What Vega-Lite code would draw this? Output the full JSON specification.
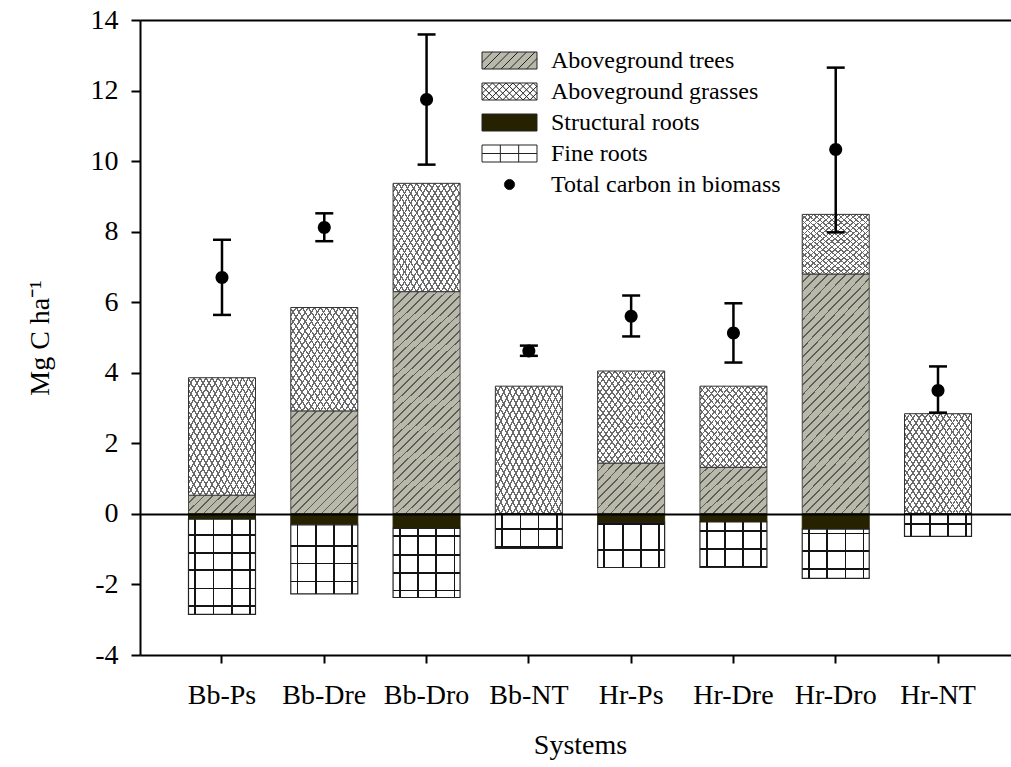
{
  "$schema": "https://vega.github.io/schema/vega-lite/v6.json",
  "width": 871,
  "height": 635,
  "autosize": {"type": "none"},
  "padding": {"left": 140, "top": 20, "right": 0, "bottom": 112},
  "background": "white",
  "datasets": {
    "components": [
      {"system": "Bb-Ps", "component": "Aboveground trees", "order": 1, "value": 0.53},
      {"system": "Bb-Ps", "component": "Aboveground grasses", "order": 2, "value": 3.33},
      {"system": "Bb-Ps", "component": "Structural roots", "order": 1, "value": -0.15},
      {"system": "Bb-Ps", "component": "Fine roots", "order": 2, "value": -2.70},
      {"system": "Bb-Dre", "component": "Aboveground trees", "order": 1, "value": 2.92},
      {"system": "Bb-Dre", "component": "Aboveground grasses", "order": 2, "value": 2.93},
      {"system": "Bb-Dre", "component": "Structural roots", "order": 1, "value": -0.31},
      {"system": "Bb-Dre", "component": "Fine roots", "order": 2, "value": -1.96},
      {"system": "Bb-Dro", "component": "Aboveground trees", "order": 1, "value": 6.30},
      {"system": "Bb-Dro", "component": "Aboveground grasses", "order": 2, "value": 3.07},
      {"system": "Bb-Dro", "component": "Structural roots", "order": 1, "value": -0.41},
      {"system": "Bb-Dro", "component": "Fine roots", "order": 2, "value": -1.96},
      {"system": "Bb-NT", "component": "Aboveground trees", "order": 1, "value": 0},
      {"system": "Bb-NT", "component": "Aboveground grasses", "order": 2, "value": 3.62},
      {"system": "Bb-NT", "component": "Structural roots", "order": 1, "value": 0},
      {"system": "Bb-NT", "component": "Fine roots", "order": 2, "value": -0.98},
      {"system": "Hr-Ps", "component": "Aboveground trees", "order": 1, "value": 1.44},
      {"system": "Hr-Ps", "component": "Aboveground grasses", "order": 2, "value": 2.61},
      {"system": "Hr-Ps", "component": "Structural roots", "order": 1, "value": -0.24},
      {"system": "Hr-Ps", "component": "Fine roots", "order": 2, "value": -1.28},
      {"system": "Hr-Dre", "component": "Aboveground trees", "order": 1, "value": 1.32},
      {"system": "Hr-Dre", "component": "Aboveground grasses", "order": 2, "value": 2.30},
      {"system": "Hr-Dre", "component": "Structural roots", "order": 1, "value": -0.23},
      {"system": "Hr-Dre", "component": "Fine roots", "order": 2, "value": -1.29},
      {"system": "Hr-Dro", "component": "Aboveground trees", "order": 1, "value": 6.80},
      {"system": "Hr-Dro", "component": "Aboveground grasses", "order": 2, "value": 1.69},
      {"system": "Hr-Dro", "component": "Structural roots", "order": 1, "value": -0.43},
      {"system": "Hr-Dro", "component": "Fine roots", "order": 2, "value": -1.40},
      {"system": "Hr-NT", "component": "Aboveground trees", "order": 1, "value": 0},
      {"system": "Hr-NT", "component": "Aboveground grasses", "order": 2, "value": 2.84},
      {"system": "Hr-NT", "component": "Structural roots", "order": 1, "value": 0},
      {"system": "Hr-NT", "component": "Fine roots", "order": 2, "value": -0.64}
    ],
    "totals": [
      {"system": "Bb-Ps", "series": "Total carbon in biomass", "total": 6.70, "low": 5.64, "high": 7.77},
      {"system": "Bb-Dre", "series": "Total carbon in biomass", "total": 8.12, "low": 7.73, "high": 8.52},
      {"system": "Bb-Dro", "series": "Total carbon in biomass", "total": 11.75, "low": 9.90, "high": 13.59},
      {"system": "Bb-NT", "series": "Total carbon in biomass", "total": 4.62, "low": 4.48, "high": 4.77},
      {"system": "Hr-Ps", "series": "Total carbon in biomass", "total": 5.60, "low": 5.03, "high": 6.19},
      {"system": "Hr-Dre", "series": "Total carbon in biomass", "total": 5.13, "low": 4.29, "high": 5.97},
      {"system": "Hr-Dro", "series": "Total carbon in biomass", "total": 10.33, "low": 7.98, "high": 12.65},
      {"system": "Hr-NT", "series": "Total carbon in biomass", "total": 3.50, "low": 2.87, "high": 4.18}
    ]
  },
  "encoding": {
    "x": {
      "field": "system",
      "type": "nominal",
      "sort": null,
      "title": "Systems",
      "scale": {
        "domain": ["Bb-Ps", "Bb-Dre", "Bb-Dro", "Bb-NT", "Hr-Ps", "Hr-Dre", "Hr-Dro", "Hr-NT"],
        "range": [0, 880],
        "paddingInner": 0,
        "paddingOuter": 0.3016
      },
      "axis": {"labelAngle": 0, "labelPadding": 18, "tickSize": 8, "grid": false, "titlePadding": 22}
    }
  },
  "layer": [
    {
      "data": {"name": "components"},
      "transform": [
        {"stack": "value", "groupby": ["system"], "sort": [{"field": "order", "order": "ascending"}], "as": ["v0", "v1"]},
        {"filter": "datum.component === 'Aboveground trees'"}
      ],
      "mark": {"type": "bar", "width": {"band": 0.655}, "stroke": "#4a4a44", "strokeWidth": 1},
      "encoding": {
        "y": {
          "field": "v0",
          "type": "quantitative",
          "title": "Mg C ha⁻¹",
          "scale": {"domain": [-4, 14], "nice": false, "zero": false},
          "axis": {
            "values": [-4, -2, 0, 2, 4, 6, 8, 10, 12, 14],
            "labelExpr": "replace(datum.label, '\u2212', '-')",
            "labelPadding": 13,
            "tickSize": 9,
            "grid": true,
            "gridColor": "black",
            "gridWidth": 2,
            "gridOpacity": {"condition": {"test": "datum.value === 0 || datum.value === 14", "value": 1}, "value": 0},
            "zindex": 1,
            "titlePadding": 36
          }
        },
        "y2": {"field": "v1"},
        "fill": {
          "condition": [
            {"test": "datum.system === 'Bb-Ps'", "value": {"gradient": "linear", "x1": 0, "y1": 0, "x2": 1.188, "y2": 0.337, "stops": [
              {"offset": 0.08, "color": "#b9b9ab"}, {"offset": 0.08, "color": "#5c5c55"}, {"offset": 0.1, "color": "#5c5c55"}, {"offset": 0.1, "color": "#b9b9ab"},
              {"offset": 0.18, "color": "#b9b9ab"}, {"offset": 0.18, "color": "#5c5c55"}, {"offset": 0.2, "color": "#5c5c55"}, {"offset": 0.2, "color": "#b9b9ab"},
              {"offset": 0.28, "color": "#b9b9ab"}, {"offset": 0.28, "color": "#5c5c55"}, {"offset": 0.3, "color": "#5c5c55"}, {"offset": 0.3, "color": "#b9b9ab"},
              {"offset": 0.38, "color": "#b9b9ab"}, {"offset": 0.38, "color": "#5c5c55"}, {"offset": 0.4, "color": "#5c5c55"}, {"offset": 0.4, "color": "#b9b9ab"},
              {"offset": 0.48, "color": "#b9b9ab"}, {"offset": 0.48, "color": "#5c5c55"}, {"offset": 0.5, "color": "#5c5c55"}, {"offset": 0.5, "color": "#b9b9ab"},
              {"offset": 0.58, "color": "#b9b9ab"}, {"offset": 0.58, "color": "#5c5c55"}, {"offset": 0.6, "color": "#5c5c55"}, {"offset": 0.6, "color": "#b9b9ab"},
              {"offset": 0.68, "color": "#b9b9ab"}, {"offset": 0.68, "color": "#5c5c55"}, {"offset": 0.7, "color": "#5c5c55"}, {"offset": 0.7, "color": "#b9b9ab"},
              {"offset": 0.78, "color": "#b9b9ab"}, {"offset": 0.78, "color": "#5c5c55"}, {"offset": 0.8, "color": "#5c5c55"}, {"offset": 0.8, "color": "#b9b9ab"},
              {"offset": 0.88, "color": "#b9b9ab"}, {"offset": 0.88, "color": "#5c5c55"}, {"offset": 0.9, "color": "#5c5c55"}, {"offset": 0.9, "color": "#b9b9ab"},
              {"offset": 0.98, "color": "#b9b9ab"}, {"offset": 0.98, "color": "#5c5c55"}, {"offset": 1, "color": "#5c5c55"}
            ]}},
            {"test": "datum.system === 'Bb-Dre'", "value": {"gradient": "linear", "x1": 0, "y1": 0, "x2": 0.754, "y2": 1.16, "stops": [
              {"offset": 0.0421, "color": "#b9b9ab"}, {"offset": 0.0421, "color": "#5c5c55"}, {"offset": 0.0526, "color": "#5c5c55"}, {"offset": 0.0526, "color": "#b9b9ab"},
              {"offset": 0.0947, "color": "#b9b9ab"}, {"offset": 0.0947, "color": "#5c5c55"}, {"offset": 0.1053, "color": "#5c5c55"}, {"offset": 0.1053, "color": "#b9b9ab"},
              {"offset": 0.1474, "color": "#b9b9ab"}, {"offset": 0.1474, "color": "#5c5c55"}, {"offset": 0.1579, "color": "#5c5c55"}, {"offset": 0.1579, "color": "#b9b9ab"},
              {"offset": 0.2, "color": "#b9b9ab"}, {"offset": 0.2, "color": "#5c5c55"}, {"offset": 0.2105, "color": "#5c5c55"}, {"offset": 0.2105, "color": "#b9b9ab"},
              {"offset": 0.2526, "color": "#b9b9ab"}, {"offset": 0.2526, "color": "#5c5c55"}, {"offset": 0.2632, "color": "#5c5c55"}, {"offset": 0.2632, "color": "#b9b9ab"},
              {"offset": 0.3053, "color": "#b9b9ab"}, {"offset": 0.3053, "color": "#5c5c55"}, {"offset": 0.3158, "color": "#5c5c55"}, {"offset": 0.3158, "color": "#b9b9ab"},
              {"offset": 0.3579, "color": "#b9b9ab"}, {"offset": 0.3579, "color": "#5c5c55"}, {"offset": 0.3684, "color": "#5c5c55"}, {"offset": 0.3684, "color": "#b9b9ab"},
              {"offset": 0.4105, "color": "#b9b9ab"}, {"offset": 0.4105, "color": "#5c5c55"}, {"offset": 0.4211, "color": "#5c5c55"}, {"offset": 0.4211, "color": "#b9b9ab"},
              {"offset": 0.4632, "color": "#b9b9ab"}, {"offset": 0.4632, "color": "#5c5c55"}, {"offset": 0.4737, "color": "#5c5c55"}, {"offset": 0.4737, "color": "#b9b9ab"},
              {"offset": 0.5158, "color": "#b9b9ab"}, {"offset": 0.5158, "color": "#5c5c55"}, {"offset": 0.5263, "color": "#5c5c55"}, {"offset": 0.5263, "color": "#b9b9ab"},
              {"offset": 0.5684, "color": "#b9b9ab"}, {"offset": 0.5684, "color": "#5c5c55"}, {"offset": 0.5789, "color": "#5c5c55"}, {"offset": 0.5789, "color": "#b9b9ab"},
              {"offset": 0.6211, "color": "#b9b9ab"}, {"offset": 0.6211, "color": "#5c5c55"}, {"offset": 0.6316, "color": "#5c5c55"}, {"offset": 0.6316, "color": "#b9b9ab"},
              {"offset": 0.6737, "color": "#b9b9ab"}, {"offset": 0.6737, "color": "#5c5c55"}, {"offset": 0.6842, "color": "#5c5c55"}, {"offset": 0.6842, "color": "#b9b9ab"},
              {"offset": 0.7263, "color": "#b9b9ab"}, {"offset": 0.7263, "color": "#5c5c55"}, {"offset": 0.7368, "color": "#5c5c55"}, {"offset": 0.7368, "color": "#b9b9ab"},
              {"offset": 0.7789, "color": "#b9b9ab"}, {"offset": 0.7789, "color": "#5c5c55"}, {"offset": 0.7895, "color": "#5c5c55"}, {"offset": 0.7895, "color": "#b9b9ab"},
              {"offset": 0.8316, "color": "#b9b9ab"}, {"offset": 0.8316, "color": "#5c5c55"}, {"offset": 0.8421, "color": "#5c5c55"}, {"offset": 0.8421, "color": "#b9b9ab"},
              {"offset": 0.8842, "color": "#b9b9ab"}, {"offset": 0.8842, "color": "#5c5c55"}, {"offset": 0.8947, "color": "#5c5c55"}, {"offset": 0.8947, "color": "#b9b9ab"},
              {"offset": 0.9368, "color": "#b9b9ab"}, {"offset": 0.9368, "color": "#5c5c55"}, {"offset": 0.9474, "color": "#5c5c55"}, {"offset": 0.9474, "color": "#b9b9ab"},
              {"offset": 0.9895, "color": "#b9b9ab"}, {"offset": 0.9895, "color": "#5c5c55"}, {"offset": 1, "color": "#5c5c55"}
            ]}},
            {"test": "datum.system === 'Bb-Dro' || datum.system === 'Hr-Dro'", "value": {"gradient": "linear", "x1": 0, "y1": 0, "x2": 0.345, "y2": 1.19, "stops": [
              {"offset": 0.0242, "color": "#b9b9ab"}, {"offset": 0.0242, "color": "#5c5c55"}, {"offset": 0.0303, "color": "#5c5c55"}, {"offset": 0.0303, "color": "#b9b9ab"},
              {"offset": 0.0545, "color": "#b9b9ab"}, {"offset": 0.0545, "color": "#5c5c55"}, {"offset": 0.0606, "color": "#5c5c55"}, {"offset": 0.0606, "color": "#b9b9ab"},
              {"offset": 0.0848, "color": "#b9b9ab"}, {"offset": 0.0848, "color": "#5c5c55"}, {"offset": 0.0909, "color": "#5c5c55"}, {"offset": 0.0909, "color": "#b9b9ab"},
              {"offset": 0.1152, "color": "#b9b9ab"}, {"offset": 0.1152, "color": "#5c5c55"}, {"offset": 0.1212, "color": "#5c5c55"}, {"offset": 0.1212, "color": "#b9b9ab"},
              {"offset": 0.1455, "color": "#b9b9ab"}, {"offset": 0.1455, "color": "#5c5c55"}, {"offset": 0.1515, "color": "#5c5c55"}, {"offset": 0.1515, "color": "#b9b9ab"},
              {"offset": 0.1758, "color": "#b9b9ab"}, {"offset": 0.1758, "color": "#5c5c55"}, {"offset": 0.1818, "color": "#5c5c55"}, {"offset": 0.1818, "color": "#b9b9ab"},
              {"offset": 0.2061, "color": "#b9b9ab"}, {"offset": 0.2061, "color": "#5c5c55"}, {"offset": 0.2121, "color": "#5c5c55"}, {"offset": 0.2121, "color": "#b9b9ab"},
              {"offset": 0.2364, "color": "#b9b9ab"}, {"offset": 0.2364, "color": "#5c5c55"}, {"offset": 0.2424, "color": "#5c5c55"}, {"offset": 0.2424, "color": "#b9b9ab"},
              {"offset": 0.2667, "color": "#b9b9ab"}, {"offset": 0.2667, "color": "#5c5c55"}, {"offset": 0.2727, "color": "#5c5c55"}, {"offset": 0.2727, "color": "#b9b9ab"},
              {"offset": 0.297, "color": "#b9b9ab"}, {"offset": 0.297, "color": "#5c5c55"}, {"offset": 0.303, "color": "#5c5c55"}, {"offset": 0.303, "color": "#b9b9ab"},
              {"offset": 0.3273, "color": "#b9b9ab"}, {"offset": 0.3273, "color": "#5c5c55"}, {"offset": 0.3333, "color": "#5c5c55"}, {"offset": 0.3333, "color": "#b9b9ab"},
              {"offset": 0.3576, "color": "#b9b9ab"}, {"offset": 0.3576, "color": "#5c5c55"}, {"offset": 0.3636, "color": "#5c5c55"}, {"offset": 0.3636, "color": "#b9b9ab"},
              {"offset": 0.3879, "color": "#b9b9ab"}, {"offset": 0.3879, "color": "#5c5c55"}, {"offset": 0.3939, "color": "#5c5c55"}, {"offset": 0.3939, "color": "#b9b9ab"},
              {"offset": 0.4182, "color": "#b9b9ab"}, {"offset": 0.4182, "color": "#5c5c55"}, {"offset": 0.4242, "color": "#5c5c55"}, {"offset": 0.4242, "color": "#b9b9ab"},
              {"offset": 0.4485, "color": "#b9b9ab"}, {"offset": 0.4485, "color": "#5c5c55"}, {"offset": 0.4545, "color": "#5c5c55"}, {"offset": 0.4545, "color": "#b9b9ab"},
              {"offset": 0.4788, "color": "#b9b9ab"}, {"offset": 0.4788, "color": "#5c5c55"}, {"offset": 0.4848, "color": "#5c5c55"}, {"offset": 0.4848, "color": "#b9b9ab"},
              {"offset": 0.5091, "color": "#b9b9ab"}, {"offset": 0.5091, "color": "#5c5c55"}, {"offset": 0.5152, "color": "#5c5c55"}, {"offset": 0.5152, "color": "#b9b9ab"},
              {"offset": 0.5394, "color": "#b9b9ab"}, {"offset": 0.5394, "color": "#5c5c55"}, {"offset": 0.5455, "color": "#5c5c55"}, {"offset": 0.5455, "color": "#b9b9ab"},
              {"offset": 0.5697, "color": "#b9b9ab"}, {"offset": 0.5697, "color": "#5c5c55"}, {"offset": 0.5758, "color": "#5c5c55"}, {"offset": 0.5758, "color": "#b9b9ab"},
              {"offset": 0.6, "color": "#b9b9ab"}, {"offset": 0.6, "color": "#5c5c55"}, {"offset": 0.6061, "color": "#5c5c55"}, {"offset": 0.6061, "color": "#b9b9ab"},
              {"offset": 0.6303, "color": "#b9b9ab"}, {"offset": 0.6303, "color": "#5c5c55"}, {"offset": 0.6364, "color": "#5c5c55"}, {"offset": 0.6364, "color": "#b9b9ab"},
              {"offset": 0.6606, "color": "#b9b9ab"}, {"offset": 0.6606, "color": "#5c5c55"}, {"offset": 0.6667, "color": "#5c5c55"}, {"offset": 0.6667, "color": "#b9b9ab"},
              {"offset": 0.6909, "color": "#b9b9ab"}, {"offset": 0.6909, "color": "#5c5c55"}, {"offset": 0.697, "color": "#5c5c55"}, {"offset": 0.697, "color": "#b9b9ab"},
              {"offset": 0.7212, "color": "#b9b9ab"}, {"offset": 0.7212, "color": "#5c5c55"}, {"offset": 0.7273, "color": "#5c5c55"}, {"offset": 0.7273, "color": "#b9b9ab"},
              {"offset": 0.7515, "color": "#b9b9ab"}, {"offset": 0.7515, "color": "#5c5c55"}, {"offset": 0.7576, "color": "#5c5c55"}, {"offset": 0.7576, "color": "#b9b9ab"},
              {"offset": 0.7818, "color": "#b9b9ab"}, {"offset": 0.7818, "color": "#5c5c55"}, {"offset": 0.7879, "color": "#5c5c55"}, {"offset": 0.7879, "color": "#b9b9ab"},
              {"offset": 0.8121, "color": "#b9b9ab"}, {"offset": 0.8121, "color": "#5c5c55"}, {"offset": 0.8182, "color": "#5c5c55"}, {"offset": 0.8182, "color": "#b9b9ab"},
              {"offset": 0.8424, "color": "#b9b9ab"}, {"offset": 0.8424, "color": "#5c5c55"}, {"offset": 0.8485, "color": "#5c5c55"}, {"offset": 0.8485, "color": "#b9b9ab"},
              {"offset": 0.8727, "color": "#b9b9ab"}, {"offset": 0.8727, "color": "#5c5c55"}, {"offset": 0.8788, "color": "#5c5c55"}, {"offset": 0.8788, "color": "#b9b9ab"},
              {"offset": 0.903, "color": "#b9b9ab"}, {"offset": 0.903, "color": "#5c5c55"}, {"offset": 0.9091, "color": "#5c5c55"}, {"offset": 0.9091, "color": "#b9b9ab"},
              {"offset": 0.9333, "color": "#b9b9ab"}, {"offset": 0.9333, "color": "#5c5c55"}, {"offset": 0.9394, "color": "#5c5c55"}, {"offset": 0.9394, "color": "#b9b9ab"},
              {"offset": 0.9636, "color": "#b9b9ab"}, {"offset": 0.9636, "color": "#5c5c55"}, {"offset": 0.9697, "color": "#5c5c55"}, {"offset": 0.9697, "color": "#b9b9ab"},
              {"offset": 0.9939, "color": "#b9b9ab"}, {"offset": 0.9939, "color": "#5c5c55"}, {"offset": 1, "color": "#5c5c55"}
            ]}}
          ],
          "value": {"gradient": "linear", "x1": 0, "y1": 0, "x2": 1.128, "y2": 0.825, "stops": [
            {"offset": 0.0615, "color": "#b9b9ab"}, {"offset": 0.0615, "color": "#5c5c55"}, {"offset": 0.0769, "color": "#5c5c55"}, {"offset": 0.0769, "color": "#b9b9ab"},
            {"offset": 0.1385, "color": "#b9b9ab"}, {"offset": 0.1385, "color": "#5c5c55"}, {"offset": 0.1538, "color": "#5c5c55"}, {"offset": 0.1538, "color": "#b9b9ab"},
            {"offset": 0.2154, "color": "#b9b9ab"}, {"offset": 0.2154, "color": "#5c5c55"}, {"offset": 0.2308, "color": "#5c5c55"}, {"offset": 0.2308, "color": "#b9b9ab"},
            {"offset": 0.2923, "color": "#b9b9ab"}, {"offset": 0.2923, "color": "#5c5c55"}, {"offset": 0.3077, "color": "#5c5c55"}, {"offset": 0.3077, "color": "#b9b9ab"},
            {"offset": 0.3692, "color": "#b9b9ab"}, {"offset": 0.3692, "color": "#5c5c55"}, {"offset": 0.3846, "color": "#5c5c55"}, {"offset": 0.3846, "color": "#b9b9ab"},
            {"offset": 0.4462, "color": "#b9b9ab"}, {"offset": 0.4462, "color": "#5c5c55"}, {"offset": 0.4615, "color": "#5c5c55"}, {"offset": 0.4615, "color": "#b9b9ab"},
            {"offset": 0.5231, "color": "#b9b9ab"}, {"offset": 0.5231, "color": "#5c5c55"}, {"offset": 0.5385, "color": "#5c5c55"}, {"offset": 0.5385, "color": "#b9b9ab"},
            {"offset": 0.6, "color": "#b9b9ab"}, {"offset": 0.6, "color": "#5c5c55"}, {"offset": 0.6154, "color": "#5c5c55"}, {"offset": 0.6154, "color": "#b9b9ab"},
            {"offset": 0.6769, "color": "#b9b9ab"}, {"offset": 0.6769, "color": "#5c5c55"}, {"offset": 0.6923, "color": "#5c5c55"}, {"offset": 0.6923, "color": "#b9b9ab"},
            {"offset": 0.7538, "color": "#b9b9ab"}, {"offset": 0.7538, "color": "#5c5c55"}, {"offset": 0.7692, "color": "#5c5c55"}, {"offset": 0.7692, "color": "#b9b9ab"},
            {"offset": 0.8308, "color": "#b9b9ab"}, {"offset": 0.8308, "color": "#5c5c55"}, {"offset": 0.8462, "color": "#5c5c55"}, {"offset": 0.8462, "color": "#b9b9ab"},
            {"offset": 0.9077, "color": "#b9b9ab"}, {"offset": 0.9077, "color": "#5c5c55"}, {"offset": 0.9231, "color": "#5c5c55"}, {"offset": 0.9231, "color": "#b9b9ab"},
            {"offset": 0.9846, "color": "#b9b9ab"}, {"offset": 0.9846, "color": "#5c5c55"}, {"offset": 1, "color": "#5c5c55"}
          ]}
        }
      }
    },
    {
      "data": {"name": "components"},
      "transform": [
        {"stack": "value", "groupby": ["system"], "sort": [{"field": "order", "order": "ascending"}], "as": ["v0", "v1"]},
        {"filter": "datum.component === 'Aboveground grasses'"}
      ],
      "mark": {"type": "bar", "width": {"band": 0.655}, "fill": {"gradient": "linear", "x1": 0, "y1": 0, "x2": 1, "y2": 1, "stops": [
        {"offset": 0.0341, "color": "#ffffff"}, {"offset": 0.0341, "color": "#6a6a6a"}, {"offset": 0.0455, "color": "#6a6a6a"}, {"offset": 0.0455, "color": "#ffffff"},
        {"offset": 0.0795, "color": "#ffffff"}, {"offset": 0.0795, "color": "#6a6a6a"}, {"offset": 0.0909, "color": "#6a6a6a"}, {"offset": 0.0909, "color": "#ffffff"},
        {"offset": 0.125, "color": "#ffffff"}, {"offset": 0.125, "color": "#6a6a6a"}, {"offset": 0.1364, "color": "#6a6a6a"}, {"offset": 0.1364, "color": "#ffffff"},
        {"offset": 0.1705, "color": "#ffffff"}, {"offset": 0.1705, "color": "#6a6a6a"}, {"offset": 0.1818, "color": "#6a6a6a"}, {"offset": 0.1818, "color": "#ffffff"},
        {"offset": 0.2159, "color": "#ffffff"}, {"offset": 0.2159, "color": "#6a6a6a"}, {"offset": 0.2273, "color": "#6a6a6a"}, {"offset": 0.2273, "color": "#ffffff"},
        {"offset": 0.2614, "color": "#ffffff"}, {"offset": 0.2614, "color": "#6a6a6a"}, {"offset": 0.2727, "color": "#6a6a6a"}, {"offset": 0.2727, "color": "#ffffff"},
        {"offset": 0.3068, "color": "#ffffff"}, {"offset": 0.3068, "color": "#6a6a6a"}, {"offset": 0.3182, "color": "#6a6a6a"}, {"offset": 0.3182, "color": "#ffffff"},
        {"offset": 0.3523, "color": "#ffffff"}, {"offset": 0.3523, "color": "#6a6a6a"}, {"offset": 0.3636, "color": "#6a6a6a"}, {"offset": 0.3636, "color": "#ffffff"},
        {"offset": 0.3977, "color": "#ffffff"}, {"offset": 0.3977, "color": "#6a6a6a"}, {"offset": 0.4091, "color": "#6a6a6a"}, {"offset": 0.4091, "color": "#ffffff"},
        {"offset": 0.4432, "color": "#ffffff"}, {"offset": 0.4432, "color": "#6a6a6a"}, {"offset": 0.4545, "color": "#6a6a6a"}, {"offset": 0.4545, "color": "#ffffff"},
        {"offset": 0.4886, "color": "#ffffff"}, {"offset": 0.4886, "color": "#6a6a6a"}, {"offset": 0.5, "color": "#6a6a6a"}, {"offset": 0.5, "color": "#ffffff"},
        {"offset": 0.5341, "color": "#ffffff"}, {"offset": 0.5341, "color": "#6a6a6a"}, {"offset": 0.5455, "color": "#6a6a6a"}, {"offset": 0.5455, "color": "#ffffff"},
        {"offset": 0.5795, "color": "#ffffff"}, {"offset": 0.5795, "color": "#6a6a6a"}, {"offset": 0.5909, "color": "#6a6a6a"}, {"offset": 0.5909, "color": "#ffffff"},
        {"offset": 0.625, "color": "#ffffff"}, {"offset": 0.625, "color": "#6a6a6a"}, {"offset": 0.6364, "color": "#6a6a6a"}, {"offset": 0.6364, "color": "#ffffff"},
        {"offset": 0.6705, "color": "#ffffff"}, {"offset": 0.6705, "color": "#6a6a6a"}, {"offset": 0.6818, "color": "#6a6a6a"}, {"offset": 0.6818, "color": "#ffffff"},
        {"offset": 0.7159, "color": "#ffffff"}, {"offset": 0.7159, "color": "#6a6a6a"}, {"offset": 0.7273, "color": "#6a6a6a"}, {"offset": 0.7273, "color": "#ffffff"},
        {"offset": 0.7614, "color": "#ffffff"}, {"offset": 0.7614, "color": "#6a6a6a"}, {"offset": 0.7727, "color": "#6a6a6a"}, {"offset": 0.7727, "color": "#ffffff"},
        {"offset": 0.8068, "color": "#ffffff"}, {"offset": 0.8068, "color": "#6a6a6a"}, {"offset": 0.8182, "color": "#6a6a6a"}, {"offset": 0.8182, "color": "#ffffff"},
        {"offset": 0.8523, "color": "#ffffff"}, {"offset": 0.8523, "color": "#6a6a6a"}, {"offset": 0.8636, "color": "#6a6a6a"}, {"offset": 0.8636, "color": "#ffffff"},
        {"offset": 0.8977, "color": "#ffffff"}, {"offset": 0.8977, "color": "#6a6a6a"}, {"offset": 0.9091, "color": "#6a6a6a"}, {"offset": 0.9091, "color": "#ffffff"},
        {"offset": 0.9432, "color": "#ffffff"}, {"offset": 0.9432, "color": "#6a6a6a"}, {"offset": 0.9545, "color": "#6a6a6a"}, {"offset": 0.9545, "color": "#ffffff"},
        {"offset": 0.9886, "color": "#ffffff"}, {"offset": 0.9886, "color": "#6a6a6a"}, {"offset": 1, "color": "#6a6a6a"}
      ]}},
      "encoding": {
        "y": {"field": "v0", "type": "quantitative", "title": "Mg C ha⁻¹"},
        "y2": {"field": "v1"}
      }
    },
    {
      "data": {"name": "components"},
      "transform": [
        {"stack": "value", "groupby": ["system"], "sort": [{"field": "order", "order": "ascending"}], "as": ["v0", "v1"]},
        {"filter": "datum.component === 'Aboveground grasses'"}
      ],
      "mark": {"type": "bar", "width": {"band": 0.655}, "stroke": "#333333", "strokeWidth": 1, "fill": {"gradient": "linear", "x1": 0, "y1": 1, "x2": 1, "y2": 0, "stops": [
        {"offset": 0.0341, "color": "rgba(255,255,255,0)"}, {"offset": 0.0341, "color": "#6a6a6a"}, {"offset": 0.0455, "color": "#6a6a6a"}, {"offset": 0.0455, "color": "rgba(255,255,255,0)"},
        {"offset": 0.0795, "color": "rgba(255,255,255,0)"}, {"offset": 0.0795, "color": "#6a6a6a"}, {"offset": 0.0909, "color": "#6a6a6a"}, {"offset": 0.0909, "color": "rgba(255,255,255,0)"},
        {"offset": 0.125, "color": "rgba(255,255,255,0)"}, {"offset": 0.125, "color": "#6a6a6a"}, {"offset": 0.1364, "color": "#6a6a6a"}, {"offset": 0.1364, "color": "rgba(255,255,255,0)"},
        {"offset": 0.1705, "color": "rgba(255,255,255,0)"}, {"offset": 0.1705, "color": "#6a6a6a"}, {"offset": 0.1818, "color": "#6a6a6a"}, {"offset": 0.1818, "color": "rgba(255,255,255,0)"},
        {"offset": 0.2159, "color": "rgba(255,255,255,0)"}, {"offset": 0.2159, "color": "#6a6a6a"}, {"offset": 0.2273, "color": "#6a6a6a"}, {"offset": 0.2273, "color": "rgba(255,255,255,0)"},
        {"offset": 0.2614, "color": "rgba(255,255,255,0)"}, {"offset": 0.2614, "color": "#6a6a6a"}, {"offset": 0.2727, "color": "#6a6a6a"}, {"offset": 0.2727, "color": "rgba(255,255,255,0)"},
        {"offset": 0.3068, "color": "rgba(255,255,255,0)"}, {"offset": 0.3068, "color": "#6a6a6a"}, {"offset": 0.3182, "color": "#6a6a6a"}, {"offset": 0.3182, "color": "rgba(255,255,255,0)"},
        {"offset": 0.3523, "color": "rgba(255,255,255,0)"}, {"offset": 0.3523, "color": "#6a6a6a"}, {"offset": 0.3636, "color": "#6a6a6a"}, {"offset": 0.3636, "color": "rgba(255,255,255,0)"},
        {"offset": 0.3977, "color": "rgba(255,255,255,0)"}, {"offset": 0.3977, "color": "#6a6a6a"}, {"offset": 0.4091, "color": "#6a6a6a"}, {"offset": 0.4091, "color": "rgba(255,255,255,0)"},
        {"offset": 0.4432, "color": "rgba(255,255,255,0)"}, {"offset": 0.4432, "color": "#6a6a6a"}, {"offset": 0.4545, "color": "#6a6a6a"}, {"offset": 0.4545, "color": "rgba(255,255,255,0)"},
        {"offset": 0.4886, "color": "rgba(255,255,255,0)"}, {"offset": 0.4886, "color": "#6a6a6a"}, {"offset": 0.5, "color": "#6a6a6a"}, {"offset": 0.5, "color": "rgba(255,255,255,0)"},
        {"offset": 0.5341, "color": "rgba(255,255,255,0)"}, {"offset": 0.5341, "color": "#6a6a6a"}, {"offset": 0.5455, "color": "#6a6a6a"}, {"offset": 0.5455, "color": "rgba(255,255,255,0)"},
        {"offset": 0.5795, "color": "rgba(255,255,255,0)"}, {"offset": 0.5795, "color": "#6a6a6a"}, {"offset": 0.5909, "color": "#6a6a6a"}, {"offset": 0.5909, "color": "rgba(255,255,255,0)"},
        {"offset": 0.625, "color": "rgba(255,255,255,0)"}, {"offset": 0.625, "color": "#6a6a6a"}, {"offset": 0.6364, "color": "#6a6a6a"}, {"offset": 0.6364, "color": "rgba(255,255,255,0)"},
        {"offset": 0.6705, "color": "rgba(255,255,255,0)"}, {"offset": 0.6705, "color": "#6a6a6a"}, {"offset": 0.6818, "color": "#6a6a6a"}, {"offset": 0.6818, "color": "rgba(255,255,255,0)"},
        {"offset": 0.7159, "color": "rgba(255,255,255,0)"}, {"offset": 0.7159, "color": "#6a6a6a"}, {"offset": 0.7273, "color": "#6a6a6a"}, {"offset": 0.7273, "color": "rgba(255,255,255,0)"},
        {"offset": 0.7614, "color": "rgba(255,255,255,0)"}, {"offset": 0.7614, "color": "#6a6a6a"}, {"offset": 0.7727, "color": "#6a6a6a"}, {"offset": 0.7727, "color": "rgba(255,255,255,0)"},
        {"offset": 0.8068, "color": "rgba(255,255,255,0)"}, {"offset": 0.8068, "color": "#6a6a6a"}, {"offset": 0.8182, "color": "#6a6a6a"}, {"offset": 0.8182, "color": "rgba(255,255,255,0)"},
        {"offset": 0.8523, "color": "rgba(255,255,255,0)"}, {"offset": 0.8523, "color": "#6a6a6a"}, {"offset": 0.8636, "color": "#6a6a6a"}, {"offset": 0.8636, "color": "rgba(255,255,255,0)"},
        {"offset": 0.8977, "color": "rgba(255,255,255,0)"}, {"offset": 0.8977, "color": "#6a6a6a"}, {"offset": 0.9091, "color": "#6a6a6a"}, {"offset": 0.9091, "color": "rgba(255,255,255,0)"},
        {"offset": 0.9432, "color": "rgba(255,255,255,0)"}, {"offset": 0.9432, "color": "#6a6a6a"}, {"offset": 0.9545, "color": "#6a6a6a"}, {"offset": 0.9545, "color": "rgba(255,255,255,0)"},
        {"offset": 0.9886, "color": "rgba(255,255,255,0)"}, {"offset": 0.9886, "color": "#6a6a6a"}, {"offset": 1, "color": "#6a6a6a"}
      ]}},
      "encoding": {
        "y": {"field": "v0", "type": "quantitative", "title": "Mg C ha⁻¹"},
        "y2": {"field": "v1"}
      }
    },
    {
      "data": {"name": "components"},
      "transform": [
        {"stack": "value", "groupby": ["system"], "sort": [{"field": "order", "order": "ascending"}], "as": ["v0", "v1"]},
        {"filter": "datum.component === 'Structural roots'"}
      ],
      "mark": {"type": "bar", "width": {"band": 0.655}, "fill": "#262200", "stroke": "#262200", "strokeWidth": 1},
      "encoding": {
        "y": {"field": "v0", "type": "quantitative", "title": "Mg C ha⁻¹"},
        "y2": {"field": "v1"}
      }
    },
    {
      "data": {"name": "components"},
      "transform": [
        {"stack": "value", "groupby": ["system"], "sort": [{"field": "order", "order": "ascending"}], "as": ["v0", "v1"]},
        {"filter": "datum.component === 'Fine roots'"}
      ],
      "mark": {"type": "bar", "width": {"band": 0.655}, "fill": {"gradient": "linear", "x1": 0, "y1": 0, "x2": 1, "y2": 0, "stops": [
        {"offset": 0.087, "color": "#ffffff"}, {"offset": 0.087, "color": "#141414"}, {"offset": 0.113, "color": "#141414"}, {"offset": 0.113, "color": "#ffffff"},
        {"offset": 0.362, "color": "#ffffff"}, {"offset": 0.362, "color": "#141414"}, {"offset": 0.388, "color": "#141414"}, {"offset": 0.388, "color": "#ffffff"},
        {"offset": 0.632, "color": "#ffffff"}, {"offset": 0.632, "color": "#141414"}, {"offset": 0.658, "color": "#141414"}, {"offset": 0.658, "color": "#ffffff"},
        {"offset": 0.902, "color": "#ffffff"}, {"offset": 0.902, "color": "#141414"}, {"offset": 0.928, "color": "#141414"}, {"offset": 0.928, "color": "#ffffff"}
      ]}},
      "encoding": {
        "y": {"field": "v0", "type": "quantitative", "title": "Mg C ha⁻¹"},
        "y2": {"field": "v1"}
      }
    },
    {
      "data": {"name": "components"},
      "transform": [
        {"stack": "value", "groupby": ["system"], "sort": [{"field": "order", "order": "ascending"}], "as": ["v0", "v1"]},
        {"filter": "datum.component === 'Fine roots'"}
      ],
      "mark": {"type": "bar", "width": {"band": 0.655}, "stroke": "#222222", "strokeWidth": 1.2},
      "encoding": {
        "y": {"field": "v0", "type": "quantitative", "title": "Mg C ha⁻¹"},
        "y2": {"field": "v1"},
        "fill": {
          "condition": [
            {"test": "datum.system === 'Bb-Ps'", "value": {"gradient": "linear", "x1": 0, "y1": 0, "x2": 0, "y2": 1, "stops": [
              {"offset": 0.159, "color": "rgba(255,255,255,0)"}, {"offset": 0.159, "color": "#141414"}, {"offset": 0.178, "color": "#141414"}, {"offset": 0.178, "color": "rgba(255,255,255,0)"},
              {"offset": 0.344, "color": "rgba(255,255,255,0)"}, {"offset": 0.344, "color": "#141414"}, {"offset": 0.363, "color": "#141414"}, {"offset": 0.363, "color": "rgba(255,255,255,0)"},
              {"offset": 0.526, "color": "rgba(255,255,255,0)"}, {"offset": 0.526, "color": "#141414"}, {"offset": 0.545, "color": "#141414"}, {"offset": 0.545, "color": "rgba(255,255,255,0)"},
              {"offset": 0.718, "color": "rgba(255,255,255,0)"}, {"offset": 0.718, "color": "#141414"}, {"offset": 0.737, "color": "#141414"}, {"offset": 0.737, "color": "rgba(255,255,255,0)"},
              {"offset": 0.904, "color": "rgba(255,255,255,0)"}, {"offset": 0.904, "color": "#141414"}, {"offset": 0.923, "color": "#141414"}, {"offset": 0.923, "color": "rgba(255,255,255,0)"}
            ]}},
            {"test": "datum.system === 'Bb-Dre'", "value": {"gradient": "linear", "x1": 0, "y1": 0, "x2": 0, "y2": 1, "stops": [
              {"offset": 0.297, "color": "rgba(255,255,255,0)"}, {"offset": 0.297, "color": "#141414"}, {"offset": 0.323, "color": "#141414"}, {"offset": 0.323, "color": "rgba(255,255,255,0)"},
              {"offset": 0.547, "color": "rgba(255,255,255,0)"}, {"offset": 0.547, "color": "#141414"}, {"offset": 0.573, "color": "#141414"}, {"offset": 0.573, "color": "rgba(255,255,255,0)"},
              {"offset": 0.807, "color": "rgba(255,255,255,0)"}, {"offset": 0.807, "color": "#141414"}, {"offset": 0.833, "color": "#141414"}, {"offset": 0.833, "color": "rgba(255,255,255,0)"}
            ]}},
            {"test": "datum.system === 'Bb-Dro'", "value": {"gradient": "linear", "x1": 0, "y1": 0, "x2": 0, "y2": 1, "stops": [
              {"offset": 0.097, "color": "rgba(255,255,255,0)"}, {"offset": 0.097, "color": "#141414"}, {"offset": 0.123, "color": "#141414"}, {"offset": 0.123, "color": "rgba(255,255,255,0)"},
              {"offset": 0.377, "color": "rgba(255,255,255,0)"}, {"offset": 0.377, "color": "#141414"}, {"offset": 0.403, "color": "#141414"}, {"offset": 0.403, "color": "rgba(255,255,255,0)"},
              {"offset": 0.627, "color": "rgba(255,255,255,0)"}, {"offset": 0.627, "color": "#141414"}, {"offset": 0.653, "color": "#141414"}, {"offset": 0.653, "color": "rgba(255,255,255,0)"},
              {"offset": 0.887, "color": "rgba(255,255,255,0)"}, {"offset": 0.887, "color": "#141414"}, {"offset": 0.913, "color": "#141414"}, {"offset": 0.913, "color": "rgba(255,255,255,0)"}
            ]}},
            {"test": "datum.system === 'Bb-NT'", "value": {"gradient": "linear", "x1": 0, "y1": 0, "x2": 0, "y2": 1, "stops": [
              {"offset": 0.415, "color": "rgba(255,255,255,0)"}, {"offset": 0.415, "color": "#141414"}, {"offset": 0.465, "color": "#141414"}, {"offset": 0.465, "color": "rgba(255,255,255,0)"},
              {"offset": 0.93, "color": "rgba(255,255,255,0)"}, {"offset": 0.93, "color": "#141414"}, {"offset": 0.98, "color": "#141414"}, {"offset": 0.98, "color": "rgba(255,255,255,0)"}
            ]}},
            {"test": "datum.system === 'Hr-Ps'", "value": {"gradient": "linear", "x1": 0, "y1": 0, "x2": 0, "y2": 1, "stops": [
              {"offset": 0.025, "color": "rgba(255,255,255,0)"}, {"offset": 0.025, "color": "#141414"}, {"offset": 0.065, "color": "#141414"}, {"offset": 0.065, "color": "rgba(255,255,255,0)"},
              {"offset": 0.6, "color": "rgba(255,255,255,0)"}, {"offset": 0.6, "color": "#141414"}, {"offset": 0.64, "color": "#141414"}, {"offset": 0.64, "color": "rgba(255,255,255,0)"}
            ]}},
            {"test": "datum.system === 'Hr-Dre'", "value": {"gradient": "linear", "x1": 0, "y1": 0, "x2": 0, "y2": 1, "stops": [
              {"offset": 0.18, "color": "rgba(255,255,255,0)"}, {"offset": 0.18, "color": "#141414"}, {"offset": 0.22, "color": "#141414"}, {"offset": 0.22, "color": "rgba(255,255,255,0)"},
              {"offset": 0.58, "color": "rgba(255,255,255,0)"}, {"offset": 0.58, "color": "#141414"}, {"offset": 0.62, "color": "#141414"}, {"offset": 0.62, "color": "rgba(255,255,255,0)"},
              {"offset": 0.96, "color": "rgba(255,255,255,0)"}, {"offset": 0.96, "color": "#141414"}, {"offset": 1, "color": "#141414"}
            ]}},
            {"test": "datum.system === 'Hr-Dro'", "value": {"gradient": "linear", "x1": 0, "y1": 0, "x2": 0, "y2": 1, "stops": [
              {"offset": 0.072, "color": "rgba(255,255,255,0)"}, {"offset": 0.072, "color": "#141414"}, {"offset": 0.108, "color": "#141414"}, {"offset": 0.108, "color": "rgba(255,255,255,0)"},
              {"offset": 0.432, "color": "rgba(255,255,255,0)"}, {"offset": 0.432, "color": "#141414"}, {"offset": 0.468, "color": "#141414"}, {"offset": 0.468, "color": "rgba(255,255,255,0)"},
              {"offset": 0.792, "color": "rgba(255,255,255,0)"}, {"offset": 0.792, "color": "#141414"}, {"offset": 0.828, "color": "#141414"}, {"offset": 0.828, "color": "rgba(255,255,255,0)"}
            ]}}
          ],
          "value": {"gradient": "linear", "x1": 0, "y1": 0, "x2": 0, "y2": 1, "stops": [
            {"offset": 0.39, "color": "rgba(255,255,255,0)"}, {"offset": 0.39, "color": "#141414"}, {"offset": 0.47, "color": "#141414"}, {"offset": 0.47, "color": "rgba(255,255,255,0)"}
          ]}
        }
      }
    },
    {
      "data": {"name": "totals"},
      "mark": {"type": "rule", "strokeWidth": 2.5, "color": "black"},
      "encoding": {
        "y": {"field": "low", "type": "quantitative", "title": "Mg C ha⁻¹"},
        "y2": {"field": "high"}
      }
    },
    {
      "data": {"name": "totals"},
      "mark": {"type": "tick", "orient": "horizontal", "thickness": 2.5, "size": 18, "color": "black", "opacity": 1},
      "encoding": {
        "y": {"field": "low", "type": "quantitative", "title": "Mg C ha⁻¹"}
      }
    },
    {
      "data": {"name": "totals"},
      "mark": {"type": "tick", "orient": "horizontal", "thickness": 2.5, "size": 18, "color": "black", "opacity": 1},
      "encoding": {
        "y": {"field": "high", "type": "quantitative", "title": "Mg C ha⁻¹"}
      }
    },
    {
      "data": {"name": "totals"},
      "mark": {"type": "point", "filled": true, "size": 469, "opacity": 1, "strokeWidth": 0},
      "encoding": {
        "y": {"field": "total", "type": "quantitative", "title": "Mg C ha⁻¹"},
        "fill": {
          "field": "series",
          "type": "nominal",
          "scale": {
            "domain": ["Aboveground trees", "Aboveground grasses", "Structural roots", "Fine roots", "Total carbon in biomass"],
            "range": ["#b9b9ab", "#ffffff", "#262200", "#ffffff", "#000000"]
          },
          "legend": {
            "title": null,
            "orient": "none",
            "legendX": 357.5,
            "legendY": 28.5,
            "padding": 0,
            "rowPadding": 7,
            "labelOffset": 29.5,
            "symbolSize": 289,
            "symbolFillColor": "black",
            "symbolStrokeColor": "#222222",
            "symbolStrokeWidth": 1,
            "symbolOpacity": 1
          }
        },
        "shape": {
          "field": "series",
          "type": "nominal",
          "scale": {
            "domain": ["Aboveground trees", "Aboveground grasses", "Structural roots", "Fine roots", "Total carbon in biomass"],
            "range": [
              "M-3.235,-1H3.235V1H-3.235ZM-3.235,0.235L-2,-1M-3,1L-1,-1M-2,1L0,-1M-1,1L1,-1M0,1L2,-1M1,1L3,-1M2,1L3.235,-0.235",
              "M-3.235,-1H3.235V1H-3.235ZM-3.235,-0.565L-2.8,-1M-3.235,0.235L-2,-1M-3.2,1L-1.2,-1M-2.4,1L-0.4,-1M-1.6,1L0.4,-1M-0.8,1L1.2,-1M0,1L2,-1M0.8,1L2.8,-1M1.6,1L3.235,-0.635M2.4,1L3.235,0.165M3.235,-0.565L2.8,-1M3.235,0.235L2,-1M3.2,1L1.2,-1M2.4,1L0.4,-1M1.6,1L-0.4,-1M0.8,1L-1.2,-1M0,1L-2,-1M-0.8,1L-2.8,-1M-1.6,1L-3.235,-0.635M-2.4,1L-3.235,0.165",
              "M-3.235,-1H3.235V1H-3.235Z",
              "M-3.235,-1H3.235V1H-3.235ZM-1.078,-1V1M1.078,-1V1M-3.235,0H3.235",
              "M0.6,0A0.6,0.6,0,1,1,-0.6,0A0.6,0.6,0,1,1,0.6,0Z"
            ]
          },
          "legend": {
            "title": null,
            "orient": "none",
            "legendX": 357.5,
            "legendY": 28.5,
            "padding": 0,
            "rowPadding": 7,
            "labelOffset": 29.5,
            "symbolSize": 289,
            "symbolFillColor": "black",
            "symbolStrokeColor": "#222222",
            "symbolStrokeWidth": 1,
            "symbolOpacity": 1
          }
        }
      }
    }
  ],
  "config": {
    "view": {"stroke": null},
    "font": "Liberation Serif",
    "axis": {
      "labelFont": "Liberation Serif",
      "labelFontSize": 28,
      "labelColor": "black",
      "titleFont": "Liberation Serif",
      "titleFontSize": 28,
      "titleFontWeight": "normal",
      "titleColor": "black",
      "domainColor": "black",
      "domainWidth": 2,
      "tickColor": "black",
      "tickWidth": 2
    },
    "legend": {
      "labelFont": "Liberation Serif",
      "labelFontSize": 24,
      "labelColor": "black",
      "labelLimit": 400
    }
  }
}
